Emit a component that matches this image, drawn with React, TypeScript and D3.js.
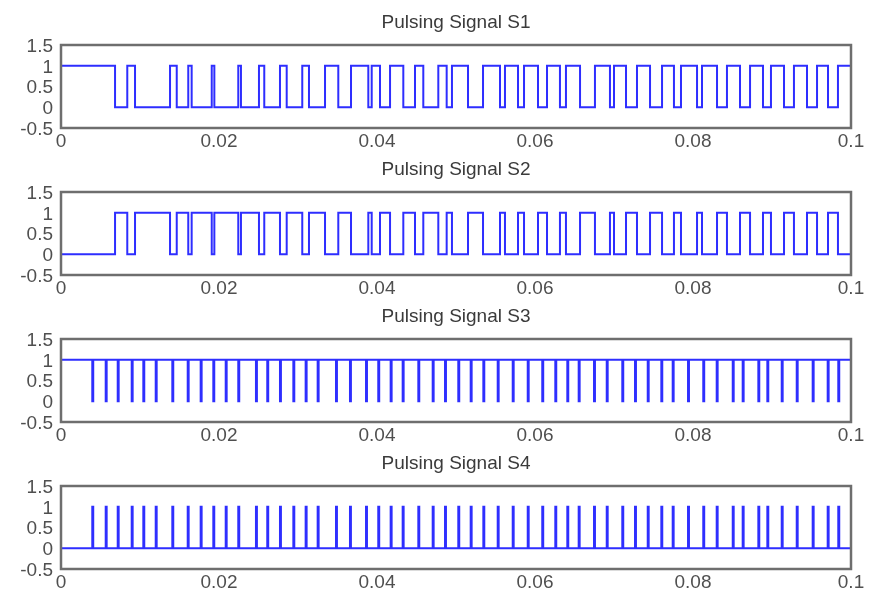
import React from "react";
import * as d3 from "d3";

// ---- data (time in ms) ----
const TITLES = ["Pulsing Signal S1", "Pulsing Signal S2", "Pulsing Signal S3", "Pulsing Signal S4"];
const X_TICKS = [0, 0.02, 0.04, 0.06, 0.08, 0.1];
const X_TICK_LABELS = ["0", "0.02", "0.04", "0.06", "0.08", "0.1"];
const Y_TICKS = [-0.5, 0, 0.5, 1, 1.5];
const Y_TICK_LABELS = ["-0.5", "0", "0.5", "1", "1.5"];

// S1 high intervals (S2 is the complementary gate signal)
const S1_HIGH_START = [0, 8.39, 13.8, 16.11, 19.08, 22.44, 25.06, 27.72, 30.54, 33.42, 36.71, 39.33, 41.65, 44.81, 47.76, 49.49, 53.42, 56.2, 58.61, 61.52, 63.92, 67.59, 70.0, 72.91, 76.08, 78.48, 81.14, 84.3, 87.22, 89.87, 92.78, 95.7, 98.35];
const S1_HIGH_END = [6.84, 9.37, 14.65, 16.54, 19.41, 22.78, 25.73, 28.57, 31.39, 35.1, 38.9, 40.38, 43.33, 45.86, 48.82, 51.52, 55.57, 57.85, 60.38, 63.16, 65.7, 69.49, 71.52, 74.56, 77.59, 80.51, 83.04, 85.95, 88.86, 91.52, 94.43, 97.09, 100];

// S3 low notches (S4 is the complement)
const S3_DIP_START = [3.96, 5.66, 7.18, 8.95, 10.42, 11.99, 14.09, 16.04, 17.68, 19.28, 20.85, 22.44, 24.68, 26.11, 27.72, 29.41, 30.97, 32.49, 34.81, 36.58, 38.61, 40.16, 41.73, 43.25, 45.23, 47.05, 48.61, 50.29, 51.86, 53.46, 55.28, 57.18, 59.08, 60.92, 62.57, 64.09, 65.53, 67.47, 69.08, 71.05, 72.66, 74.27, 75.99, 77.43, 79.37, 81.3, 83.0, 85.03, 86.29, 88.27, 89.41, 91.23, 93.13, 95.15, 97.05, 98.39];
const S3_DIP_WIDTH = 0.12;
const T_END = 100;

type Pt = { t: number; v: number };

function stepPoints(starts: number[], ends: number[], inside: number, outside: number): Pt[] {
  const pts: Pt[] = [];
  let cur = 0;
  if (starts[0] > 0) pts.push({ t: 0, v: outside });
  starts.forEach((s, i) => {
    const e = ends[i];
    pts.push({ t: s, v: inside });
    pts.push({ t: e, v: outside });
    cur = e;
  });
  if (cur < T_END) pts.push({ t: T_END, v: outside });
  return pts;
}

const S3_DIP_END = S3_DIP_START.map((d) => d + S3_DIP_WIDTH);

const SERIES: Pt[][] = [
  stepPoints(S1_HIGH_START, S1_HIGH_END, 1, 0),
  stepPoints(S1_HIGH_START, S1_HIGH_END, 0, 1),
  stepPoints(S3_DIP_START, S3_DIP_END, 0, 1),
  stepPoints(S3_DIP_START, S3_DIP_END, 1, 0),
];

const W = 872;
const H = 591;
const LEFT = 61;
const RIGHT = 851;
const TOPS = [45, 192, 339, 486];
const PH = 83;
const FONT = "'Liberation Sans', Arial, sans-serif";

function Panel({ idx }: { idx: number }) {
  const top = TOPS[idx];
  const x = d3.scaleLinear().domain([0, 0.1]).range([LEFT, RIGHT]);
  const y = d3.scaleLinear().domain([-0.5, 1.5]).range([top + PH, top]);
  const line = d3
    .line<Pt>()
    .x((d) => x(d.t / 1000))
    .y((d) => y(d.v))
    .curve(d3.curveStepAfter);
  const tl = 8;
  const axisColor = "#6e6e6e";
  return (
    <g>
      <text x={(LEFT + RIGHT) / 2} y={top - 17} textAnchor="middle" fontFamily={FONT} fontSize={19} fill="#3a3a3a" filter="url(#softText)">
        {TITLES[idx]}
      </text>
      <path d={line(SERIES[idx]) || ""} fill="none" stroke="#2f2fff" strokeWidth={2} filter="url(#soft)" />
      <rect x={LEFT} y={top} width={RIGHT - LEFT} height={PH} fill="none" stroke={axisColor} strokeWidth={2.5} filter="url(#soft)" />
      {X_TICKS.map((t, i) => (
        <g key={"x" + i}>
          <line x1={x(t)} x2={x(t)} y1={top} y2={top + tl} stroke={axisColor} strokeWidth={2} filter="url(#soft)" />
          <line x1={x(t)} x2={x(t)} y1={top + PH} y2={top + PH - tl} stroke={axisColor} strokeWidth={2} filter="url(#soft)" />
          <text x={x(t)} y={top + PH + 19} textAnchor="middle" fontFamily={FONT} fontSize={19} fill="#505050" filter="url(#softText)">
            {X_TICK_LABELS[i]}
          </text>
        </g>
      ))}
      {Y_TICKS.map((v, i) => (
        <g key={"y" + i}>
          <line x1={LEFT} x2={LEFT + tl} y1={y(v)} y2={y(v)} stroke={axisColor} strokeWidth={2} filter="url(#soft)" />
          <line x1={RIGHT} x2={RIGHT - tl} y1={y(v)} y2={y(v)} stroke={axisColor} strokeWidth={2} filter="url(#soft)" />
          <text x={53} y={y(v)} dy="0.36em" textAnchor="end" fontFamily={FONT} fontSize={19} fill="#505050" filter="url(#softText)">
            {Y_TICK_LABELS[i]}
          </text>
        </g>
      ))}
    </g>
  );
}

export default function App() {
  return (
    <svg width={W} height={H} style={{ position: "absolute", left: 0, top: 0, background: "#fff" }}>
      <defs>
        <filter id="soft" x="-5%" y="-20%" width="110%" height="140%">
          <feGaussianBlur stdDeviation={0.6} />
        </filter>
        <filter id="softText" x="-10%" y="-30%" width="120%" height="160%">
          <feGaussianBlur stdDeviation={0.4} />
        </filter>
      </defs>
      <rect x={0} y={0} width={W} height={H} fill="#fff" />
      {TITLES.map((_, i) => (
        <Panel key={i} idx={i} />
      ))}
    </svg>
  );
}
